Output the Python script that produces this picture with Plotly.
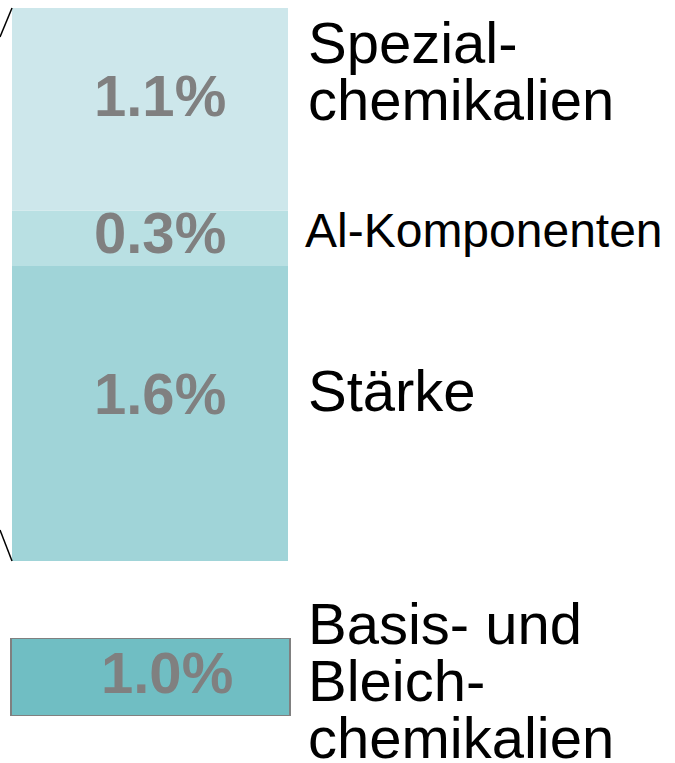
import plotly.graph_objects as go

# Data
stack_categories = ["Stärke", "Al-Komponenten", "Spezial-\nchemikalien"]
stack_values = [1.6, 0.3, 1.1]
stack_colors = ["#a0d4d8", "#b9e0e3", "#cde7eb"]
box_category = "Basis- und\nBleich-\nchemikalien"
box_value = 1.0
box_color = "#70bec3"

W, H = 675, 763
px_per_unit = 553 / 3.0
bar_top_px = 8
total = sum(stack_values)
y_top = total + bar_top_px / px_per_unit
y_bot = y_top - H / px_per_unit

fig = go.Figure()

base = 0.0
for cat, v, c in zip(stack_categories, stack_values, stack_colors):
    fig.add_trace(go.Bar(x=[150], y=[v], base=[base], width=[276], marker=dict(color=c, line=dict(width=0)),
                         name=cat, hoverinfo="skip", xaxis="x", yaxis="y"))
    base += v

# Separate box
fig.add_trace(go.Bar(x=[150.5], y=[box_value], base=[0], width=[279],
                     marker=dict(color=box_color, line=dict(color="#808080", width=2)),
                     name=box_category, hoverinfo="skip", xaxis="x", yaxis="y2"))

# connector lines from previous bar (to the left, off-screen)
fig.add_trace(go.Scatter(x=[0, 12], y=[total - 29 / px_per_unit, total], mode="lines",
                         line=dict(color="black", width=1.5), hoverinfo="skip", xaxis="x", yaxis="y"))
fig.add_trace(go.Scatter(x=[0, 12], y=[31 / px_per_unit, 0], mode="lines",
                         line=dict(color="black", width=1.5), hoverinfo="skip", xaxis="x", yaxis="y"))

ann = []
val_font = dict(family="Liberation Sans, Arial, sans-serif", size=58, color="#808080")
lab_font = dict(family="Liberation Sans, Arial, sans-serif", size=58, color="black")
val_shift = {0: 20, 1: 6, 2: 14}
base = 0.0
for i, (cat, v) in enumerate(zip(stack_categories, stack_values)):
    mid = base + v / 2
    ann.append(dict(x=160, y=mid, xref="x", yref="y", text=f"<b>{v:.1f}%</b>", showarrow=False,
                    font=val_font, xanchor="center", yanchor="middle", yshift=val_shift[i]))
    base += v

# labels
ann.append(dict(x=306, y=stack_values[0] / 2, xref="x", yref="y", text=stack_categories[0], showarrow=False,
                font=lab_font, xanchor="left", yanchor="middle", yshift=23))
ann.append(dict(x=303, y=stack_values[0] + stack_values[1] / 2, xref="x", yref="y", text=stack_categories[1],
                showarrow=False, font=dict(lab_font, size=48), xanchor="left", yanchor="middle", yshift=8))
for j, line in enumerate(stack_categories[2].split("\n")):
    ann.append(dict(x=306, y=total, xref="x", yref="y", text=line, showarrow=False, font=lab_font,
                    xanchor="left", yanchor="top", yshift=0 - 57 * j))

ann.append(dict(x=167, y=box_value / 2, xref="x", yref="y2", text=f"<b>{box_value:.1f}%</b>", showarrow=False,
                font=val_font, xanchor="center", yanchor="middle", yshift=5))
for j, line in enumerate(box_category.split("\n")):
    ann.append(dict(x=306, y=box_value, xref="x", yref="y2", text=line, showarrow=False, font=lab_font,
                    xanchor="left", yanchor="top", yshift=49 - 57 * j))

fig.update_layout(
    width=W, height=H, margin=dict(l=0, r=0, t=0, b=0),
    paper_bgcolor="white", plot_bgcolor="white", showlegend=False, barmode="overlay",
    xaxis=dict(range=[0, W], visible=False, fixedrange=True),
    yaxis=dict(range=[y_bot, y_top], visible=False, domain=[0, 1]),
    yaxis2=dict(range=[0, box_value], visible=False, domain=[(H - 716) / H, (H - 638) / H], anchor="x"),
    annotations=ann,
)

fig.write_html("out.html", config={"displayModeBar": False},
               post_script="document.body.style.margin='0';document.body.style.overflow='hidden';")
